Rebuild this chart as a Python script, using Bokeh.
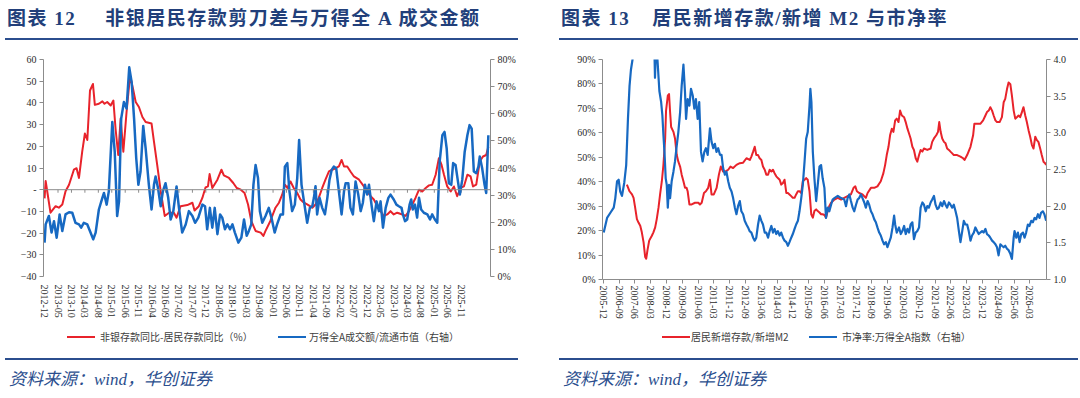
from bokeh.plotting import figure
from bokeh.models import (Range1d, LinearAxis, FixedTicker, Div, Spacer, Span,
                          PrintfTickFormatter, NumeralTickFormatter)
from bokeh.layouts import row, column
from bokeh.embed import file_html
from bokeh.resources import INLINE

# ---------------- data: chart 12 (x = months since 2012-12) ----------------
left_tick_labels = ["2012-12", "2013-05", "2013-10", "2014-03", "2014-08", "2015-01", "2015-06",
                    "2015-11", "2016-04", "2016-09", "2017-02", "2017-07", "2017-12", "2018-05",
                    "2018-10", "2019-03", "2019-08", "2020-01", "2020-06", "2020-11", "2021-04",
                    "2021-09", "2022-02", "2022-07", "2022-12", "2023-05", "2023-10", "2024-03",
                    "2024-08", "2025-01", "2025-06", "2025-11"]

gap_x = [0, 0.4, 2.2, 4.1, 5.3, 6.6, 7.8, 9.1, 10.9, 11.9,
         12.8, 14.0, 15.0, 15.9, 16.9, 18.0, 18.7, 20.2, 21.5, 22.3,
         23.3, 24.6, 25.6, 26.4, 27.4, 28.3, 29.3, 30.5, 31.8, 32.9,
         33.9, 35.1, 36.4, 37.6, 39.8, 40.7, 41.9, 43.2, 44.7, 46.3,
         48.1, 49.1, 50.6, 53.1, 55.0, 55.8, 57.4, 58.7, 59.9, 60.8,
         61.4, 62.4, 64.3, 65.8, 66.7, 68.6, 70.2, 71.5, 73.0, 74.4,
         75.7, 76.9, 78.5, 80.4, 81.4, 82.2, 84.0, 85.9, 87.2, 88.4,
         89.4, 90.3, 91.5, 92.7, 94.0, 95.2, 96.5, 97.7, 99.6, 100.8,
         102.0, 103.3, 104.5, 105.8, 107.0, 108.3, 109.5, 110.5, 111.4, 112.6,
         113.8, 115.1, 117.0, 118.8, 120.0, 121.3, 122.5, 123.8, 125.0, 126.2,
         127.5, 128.7, 129.9, 131.2, 133.1, 134.3, 135.6, 136.8, 138.0, 139.3,
         140.5, 141.8, 143.0, 144.2, 145.5, 146.7, 147.7, 148.6, 149.8, 151.1,
         152.3, 153.5, 154.8, 156.0, 157.3, 158.5, 159.4, 160.6, 161.9, 163.1,
         164.3, 165.1]
gap_y = [-4, 4, -10.6, -7.6, -8.3, -6.8, -0.7, 2.3, 9.2, 9.9,
         5.4, 17.5, 25.9, 22.9, 45.7, 48.7, 39.1, 39.6, 40.7, 39.6,
         40.4, 38.8, 41.1, 28.2, 16.0, 32.8, 17.5, 35.8, 52.5, 46.5,
         40.4, 38.1, 33.5, 31.2, 30.5, 22.1, 11.4, -0.7, -12.1, -10.6,
         -10.6, -12.9, -7.6, -7.1, -6.0, -9.6, -7.6, -3.8, 1.1, 1.6,
         7.2, 0.8, 4.6, 9.2, 6.6, 5.4, 3.1, 0.8, 0.0, -1.5,
         -6.8, -14.4, -19.0, -19.8, -21.3, -19.0, -14.4, -8.3, -6.0, -2.3,
         2.3, 0.8, 3.8, 0.8, -1.5, -4.5, -6.0, -6.8, -8.3, -6.8,
         -3.8, 0.8, 4.6, 8.4, 9.2, 9.9, 10.7, 13.7, 10.7, 10.7,
         8.4, 6.1, 4.6, 1.5, -0.8, -3.0, -4.5, -7.6, -9.9, -12.1,
         -11.4, -9.9, -11.4, -10.6, -11.4, -12.1, -9.9, -6.8, -3.8, 0.0,
         -0.8, 0.8, 2.0, 2.3, 6.9, 14.5, 11.4, 6.9, 1.5, -0.8,
         1.5, -3.0, 0.8, 1.5, 6.9, 6.1, 1.5, 2.3, 13.0, 15.3,
         16.0, 19.8]

turn_x = [0, 0.4, 1.6, 2.6, 3.5, 4.5, 5.6, 6.6, 7.8, 9.1,
          10.3, 11.5, 12.8, 13.6, 14.6, 15.9, 17.1, 18.1, 19.0, 20.2,
          21.5, 22.1, 23.1, 23.9, 25.2, 26.1, 27.0, 27.7, 28.5, 29.5,
          30.5, 31.5, 32.4, 33.3, 34.1, 34.9, 35.7, 36.7, 37.6, 38.8,
          39.8, 40.7, 41.3, 42.2, 43.2, 44.0, 45.0, 46.0, 46.9, 47.9,
          49.1, 50.0, 51.2, 52.5, 53.7, 55.0, 56.0, 57.2, 58.7, 59.7,
          60.5, 61.5, 62.4, 63.3, 64.3, 65.3, 66.1, 67.1, 68.0, 69.0,
          69.9, 70.8, 72.1, 73.2, 74.2, 75.2, 76.0, 76.9, 77.7, 78.5,
          79.4, 80.1, 81.0, 82.2, 83.4, 84.4, 85.6, 86.5, 87.8, 88.7,
          89.4, 90.3, 91.1, 92.1, 93.1, 94.0, 94.7, 95.6, 96.5, 97.7,
          98.7, 99.6, 100.2, 100.8, 101.4, 102.3, 103.3, 104.3, 105.2, 106.0,
          106.8, 107.6, 108.5, 109.5, 110.5, 111.4, 112.0, 113.0, 113.8, 114.7,
          115.7, 116.7, 117.6, 118.4, 119.2, 120.0, 120.7, 121.7, 122.5, 123.5,
          124.4, 125.0, 125.9, 126.9, 127.9, 128.7, 129.9, 130.9, 131.8, 132.8,
          133.3, 134.1, 134.9, 135.8, 136.4, 137.0, 137.8, 138.6, 139.3, 140.1,
          141.1, 142.4, 143.4, 144.2, 145.2, 146.1, 147.0, 148.0, 148.8, 149.6,
          150.4, 151.3, 152.0, 152.9, 153.8, 154.5, 155.4, 156.3, 157.3, 158.1,
          158.9, 159.7, 160.6, 161.4, 161.9, 162.8, 163.7, 164.3, 165.1]
turn_y = [12.5, 19.2, 22.3, 16.2, 20.4, 14.3, 22.9, 16.8, 22.9, 23.7,
          23.5, 19.8, 19.2, 18.0, 19.8, 19.2, 16.2, 13.7, 16.2, 24.7,
          29.0, 30.8, 26.5, 31.4, 57.0, 46.0, 22.3, 27.7, 58.2, 64.3,
          61.9, 77.1, 71.6, 58.2, 43.6, 33.8, 38.7, 55.5, 47.2, 33.8,
          24.7, 33.8, 36.9, 32.6, 25.9, 31.4, 34.4, 29.0, 21.0, 24.1,
          33.2, 25.3, 16.2, 19.2, 24.1, 22.3, 19.8, 21.7, 26.5, 25.9,
          17.4, 25.3, 18.0, 25.3, 15.6, 22.9, 21.7, 17.4, 19.2, 17.4,
          19.2, 16.2, 12.5, 14.3, 21.0, 15.0, 16.8, 19.2, 33.8, 41.1,
          36.3, 24.1, 19.8, 22.3, 25.3, 21.7, 16.2, 19.2, 22.9, 22.9,
          40.5, 41.8, 31.4, 24.1, 26.5, 36.3, 50.3, 33.8, 27.7, 19.8,
          25.3, 25.9, 29.0, 33.3, 22.9, 29.0, 25.3, 22.9, 29.0, 35.7,
          39.3, 40.5, 39.9, 31.4, 22.9, 31.4, 34.4, 34.4, 25.3, 22.9,
          35.0, 30.2, 24.1, 27.1, 33.8, 30.2, 33.8, 25.9, 20.4, 27.7,
          24.1, 27.7, 18.0, 25.3, 29.0, 30.2, 28.4, 26.5, 25.9, 25.3,
          22.9, 20.4, 21.0, 26.5, 28.4, 24.7, 26.5, 21.7, 29.0, 24.7,
          23.5, 22.9, 21.0, 22.9, 21.0, 19.8, 42.4, 52.1, 53.3, 47.2,
          34.4, 33.8, 41.8, 41.1, 35.0, 30.2, 35.7, 46.0, 52.1, 55.8,
          54.5, 38.7, 38.1, 40.5, 44.2, 39.9, 33.8, 30.8, 52.1]

# ---------------- data: chart 13 (x = months since 2005-12) ----------------
right_tick_labels = ["2005-12", "2006-09", "2007-06", "2008-03", "2008-12", "2009-09", "2010-06",
                     "2011-03", "2011-12", "2012-09", "2013-06", "2014-03", "2014-12", "2015-09",
                     "2016-06", "2017-03", "2017-12", "2018-09", "2019-06", "2020-03", "2020-12",
                     "2021-09", "2022-06", "2023-03", "2023-12", "2024-09", "2025-06", "2026-03"]

dep_x = [13.4, 14.9, 16.3, 17.2, 18.1, 19.1, 20.0, 21.0, 21.9, 22.9,
         23.8, 24.4, 25.1, 26.1, 27.6, 28.5, 29.5, 30.4, 31.4, 32.3,
         33.3, 34.2, 35.2, 35.7, 36.7, 37.4, 38.0, 38.6, 39.9, 40.8,
         41.8, 42.7, 43.7, 44.6, 45.6, 46.5, 47.4, 48.0, 49.0, 50.3,
         52.2, 54.1, 55.0, 56.0, 57.3, 58.4, 59.7, 60.7, 61.6, 62.9,
         64.5, 65.8, 66.9, 68.2, 69.6, 71.1, 72.4, 73.9, 75.8, 77.7,
         79.6, 81.5, 83.4, 84.3, 85.3, 86.2, 87.1, 88.1, 89.0, 90.0,
         90.9, 91.9, 92.8, 93.8, 94.7, 95.7, 96.6, 97.5, 98.5, 99.4,
         100.4, 101.3, 102.3, 103.2, 104.2, 105.1, 106.0, 107.0, 107.9, 108.9,
         109.8, 110.8, 111.7, 112.7, 113.6, 114.6, 115.5, 116.4, 117.4, 118.4,
         119.3, 120.2, 121.2, 122.1, 123.1, 124.0, 124.9, 125.9, 126.8, 127.8,
         128.7, 129.7, 131.6, 133.5, 135.4, 137.2, 139.1, 141.0, 142.5, 143.5,
         144.4, 145.7, 147.6, 149.5, 150.5, 152.4, 154.3, 156.1, 158.0, 159.5,
         160.5, 161.4, 162.4, 163.3, 164.3, 165.2, 166.2, 167.1, 168.1, 169.0,
         170.0, 171.3, 172.2, 173.2, 174.1, 175.0, 176.0, 176.9, 177.9, 178.8,
         179.8, 180.7, 181.7, 182.6, 184.5, 186.4, 187.3, 188.3, 189.6, 190.6,
         191.3, 192.1, 193.0, 194.0, 194.9, 195.8, 196.8, 197.7, 198.7, 199.6,
         201.5, 203.4, 204.9, 205.7, 207.2, 209.1, 210.6, 211.3, 212.9, 214.7,
         216.3, 217.6, 218.5, 219.5, 220.4, 221.4, 222.3, 223.3, 224.2, 225.7,
         227.0, 228.0, 228.9, 229.9, 230.8, 231.8, 232.7, 233.7, 234.6, 235.5,
         236.5, 237.4, 238.4, 239.3, 240.3, 241.2, 242.2, 243.1, 244.1, 245.0,
         246.0, 246.9, 247.8, 248.8, 249.7, 250.7, 251.6, 252.2]
dep_y = [38.8, 36.1, 34.8, 33.4, 29.4, 24.7, 23.3, 22.0, 19.3, 15.2,
         9.2, 8.5, 11.9, 15.9, 17.9, 19.3, 21.3, 24.7, 29.4, 34.8,
         40.2, 46.9, 57.7, 69.1, 75.2, 75.9, 68.5, 62.4, 60.4, 57.7,
         50.9, 48.2, 46.2, 42.9, 40.2, 37.5, 37.5, 36.1, 30.7, 30.7,
         31.4, 31.4, 30.7, 31.4, 35.4, 36.1, 37.5, 40.8, 34.8, 34.8,
         37.5, 42.9, 46.2, 44.2, 44.2, 44.9, 46.2, 45.6, 46.9, 47.6,
         47.8, 49.6, 48.9, 50.3, 52.3, 54.3, 50.9, 50.9, 49.6, 48.9,
         46.2, 44.9, 42.9, 42.9, 44.9, 44.2, 44.9, 43.5, 42.2, 41.5,
         40.8, 38.8, 39.5, 40.8, 35.4, 35.4, 34.8, 34.1, 33.4, 33.4,
         34.8, 36.1, 36.1, 35.4, 40.2, 40.8, 41.5, 40.8, 36.1, 26.7,
         25.3, 28.0, 28.7, 28.0, 27.4, 26.7, 26.7, 26.4, 25.3, 28.0,
         30.1, 31.4, 32.7, 33.4, 32.7, 33.4, 34.1, 34.8, 37.5, 38.1,
         36.1, 35.4, 34.8, 33.4, 35.4, 37.5, 37.5, 38.1, 40.2, 43.5,
         46.9, 50.9, 54.3, 59.0, 61.7, 60.4, 65.1, 65.8, 64.4, 69.1,
         67.1, 66.4, 64.4, 61.7, 59.7, 57.7, 54.3, 53.0, 49.6, 48.2,
         50.9, 53.0, 52.3, 53.6, 53.0, 53.6, 56.3, 57.7, 59.0, 60.4,
         64.4, 60.4, 57.7, 56.3, 55.7, 53.6, 53.0, 52.3, 51.6, 50.9,
         50.9, 50.3, 49.6, 48.9, 50.9, 54.3, 59.0, 63.7, 63.7, 63.7,
         65.1, 67.1, 68.5, 69.1, 70.5, 69.1, 67.1, 65.1, 64.4, 64.4,
         66.4, 72.5, 73.9, 77.9, 80.6, 79.9, 75.2, 69.1, 65.8, 66.4,
         67.1, 66.4, 68.5, 70.5, 67.1, 64.4, 61.0, 58.4, 55.0, 53.6,
         58.4, 57.0, 56.3, 53.6, 50.9, 48.2, 47.6, 46.9]

pb_x = [0.2, 2.1, 4.0, 5.9, 6.8, 7.8, 8.7, 9.6, 10.6, 11.9,
        13.0, 14.0, 14.9, 15.7, 16.6, 17.5, 19.0, 21.0, 22.5, 24.0,
        26.0, 28.0, 29.0, 29.4, 29.8, 30.8, 31.9, 32.9, 33.6, 34.2,
        34.8, 35.5, 36.1, 36.7, 37.4, 38.0, 38.9, 39.9, 40.8, 41.8,
        42.7, 43.7, 44.6, 45.6, 46.5, 47.1, 48.0, 49.0, 49.9, 50.9,
        51.8, 52.7, 53.7, 54.6, 55.6, 56.5, 57.5, 58.4, 59.4, 60.7,
        61.6, 62.6, 63.5, 64.4, 65.4, 66.4, 67.3, 68.2, 69.2, 70.1,
        71.1, 72.0, 73.0, 73.9, 74.9, 75.8, 76.7, 77.7, 78.6, 79.6,
        80.5, 81.5, 82.4, 83.3, 84.3, 85.3, 86.2, 87.1, 88.1, 89.0,
        90.0, 90.9, 91.9, 92.8, 93.8, 94.7, 95.7, 96.6, 97.5, 98.5,
        99.4, 100.4, 101.3, 102.3, 103.2, 104.2, 105.1, 106.0, 107.0, 107.9,
        108.9, 109.8, 110.8, 111.7, 112.7, 113.6, 114.6, 115.5, 116.4, 117.4,
        117.9, 118.5, 119.3, 120.2, 121.2, 122.1, 123.1, 124.0, 124.9, 125.9,
        126.8, 127.8, 128.7, 129.7, 130.6, 131.6, 133.5, 135.4, 137.2, 138.2,
        139.1, 140.1, 141.0, 142.0, 142.9, 143.9, 144.8, 145.7, 146.7, 147.6,
        148.6, 149.5, 150.5, 151.4, 152.4, 153.3, 154.3, 155.2, 156.1, 157.1,
        158.0, 159.0, 159.9, 160.9, 161.8, 162.8, 163.7, 164.7, 165.6, 166.2,
        167.1, 168.4, 169.4, 170.3, 171.3, 172.2, 173.2, 174.1, 175.0, 176.0,
        176.9, 177.9, 178.8, 179.8, 180.7, 181.7, 182.6, 183.6, 184.5, 185.4,
        186.4, 187.3, 188.3, 189.2, 190.2, 191.1, 192.1, 193.0, 194.0, 194.9,
        195.8, 196.8, 197.7, 198.7, 199.6, 200.6, 201.5, 202.5, 203.4, 204.4,
        205.3, 206.2, 207.2, 208.1, 209.1, 210.0, 211.0, 211.9, 212.9, 213.8,
        214.7, 215.7, 216.6, 217.6, 218.5, 219.5, 220.4, 221.4, 222.3, 223.3,
        224.2, 225.1, 226.1, 227.0, 228.0, 228.9, 229.9, 230.8, 231.8, 232.7,
        233.7, 234.2, 235.2, 236.1, 237.1, 238.0, 239.0, 239.9, 240.8, 241.8,
        242.7, 243.7, 244.6, 245.6, 246.5, 247.5, 248.4, 249.3, 250.3, 251.2,
        252.2]
pb_y = [1.64, 1.84, 1.91, 1.98, 2.11, 2.34, 2.36, 2.20, 2.14, 2.32,
        2.56, 3.19, 3.64, 3.86, 4.00, 4.40, 5.00, 5.60, 6.00, 5.70,
        5.20, 4.50, 4.20, 3.75, 4.05, 4.00, 3.57, 3.42, 3.24, 2.97,
        2.74, 2.38, 2.29, 1.98, 2.29, 2.11, 2.34, 2.47, 2.61, 2.83,
        3.01, 3.28, 3.64, 3.93, 3.55, 3.19, 3.46, 3.37, 3.60, 3.51,
        3.33, 3.46, 3.19, 3.42, 2.74, 2.61, 2.74, 2.79, 2.70, 3.06,
        2.88, 2.79, 2.85, 2.74, 2.79, 2.70, 2.70, 2.52, 2.43, 2.47,
        2.34, 2.25, 2.20, 2.11, 1.98, 1.89, 2.00, 2.07, 1.93, 1.89,
        1.80, 1.75, 1.71, 1.66, 1.64, 1.57, 1.53, 1.57, 1.75, 1.87,
        1.80, 1.75, 1.64, 1.64, 1.57, 1.66, 1.73, 1.64, 1.69, 1.62,
        1.66, 1.60, 1.64, 1.57, 1.53, 1.51, 1.46, 1.51, 1.57, 1.62,
        1.69, 1.75, 1.80, 1.93, 2.11, 2.29, 2.61, 2.92, 3.01, 3.37,
        3.60, 3.42, 2.74, 2.38, 2.07, 2.29, 2.54, 2.56, 2.38, 2.25,
        1.84, 1.98, 1.93, 2.02, 2.09, 2.11, 2.14, 2.11, 2.09, 2.00,
        2.11, 2.16, 2.07, 1.98, 1.93, 2.02, 2.09, 2.11, 2.16, 2.11,
        2.05, 1.98, 2.07, 2.02, 1.93, 1.89, 1.82, 1.78, 1.71, 1.64,
        1.60, 1.53, 1.48, 1.51, 1.44, 1.51, 1.57, 1.71, 1.87, 1.75,
        1.64, 1.71, 1.62, 1.66, 1.73, 1.62, 1.69, 1.64, 1.75, 1.78,
        1.55, 1.64, 1.66, 1.71, 1.98, 2.05, 2.02, 1.93, 2.00, 1.98,
        2.05, 2.09, 2.14, 2.02, 1.96, 1.98, 2.05, 2.00, 2.07, 2.02,
        1.98, 2.05, 2.02, 1.98, 2.02, 1.93, 1.84, 1.66, 1.51, 1.66,
        1.80, 1.75, 1.75, 1.66, 1.53, 1.60, 1.64, 1.71, 1.66, 1.62,
        1.64, 1.66, 1.64, 1.69, 1.62, 1.60, 1.57, 1.53, 1.51, 1.48,
        1.44, 1.33, 1.48, 1.46, 1.44, 1.46, 1.42, 1.40, 1.35, 1.28,
        1.57, 1.66, 1.57, 1.64, 1.51, 1.62, 1.64, 1.57, 1.64, 1.75,
        1.73, 1.80, 1.78, 1.84, 1.82, 1.89, 1.84, 1.91, 1.93, 1.89,
        1.80]

# ---------------- styles ----------------
RED = "#E8232B"
BLUE = "#1769C2"
NAVY = "#223F7A"
RULE = "#2B4E8E"
AXIS = "#8C8C8C"
TXT = "#2B2B2B"
SERIF = "Liberation Serif"
CJK = "Noto Sans CJK SC"


def pairs(xs, ys):
    n = min(len(xs), len(ys))
    return list(xs[:n]), list(ys[:n])


def style_axis(ax, tick_out=4, standoff=3):
    ax.axis_line_color = AXIS
    ax.axis_line_width = 1
    ax.major_tick_line_color = AXIS
    ax.minor_tick_line_color = None
    ax.major_tick_in = 0
    ax.major_tick_out = tick_out
    ax.major_label_text_font = SERIF
    ax.major_label_text_font_size = "10px"
    ax.major_label_text_color = TXT
    ax.major_label_standoff = standoff


def base_fig(width, height, xr, yr, mbl, mbr, mbt, mbb):
    p = figure(width=width, height=height, x_range=Range1d(*xr), y_range=Range1d(*yr),
               output_backend="svg", toolbar_location=None,
               min_border_left=mbl, min_border_right=mbr,
               min_border_top=mbt, min_border_bottom=mbb)
    p.outline_line_color = None
    p.xgrid.visible = False
    p.ygrid.visible = False
    p.background_fill_color = "white"
    p.border_fill_color = "white"
    return p


def title_div(width, inset, number, text, gap):
    html = (f'<div style="box-sizing:border-box;margin-left:{inset}px;width:{width - inset}px;height:40px;'
            f'padding:8px 0 0 2px;border-bottom:2px solid {RULE};'
            f"font-family:'{SERIF}','{CJK}',serif;font-weight:bold;font-size:19px;"
            f'line-height:22px;letter-spacing:1.5px;color:{NAVY};white-space:nowrap;">'
            f'{number}<span style="display:inline-block;width:{gap}px"></span>{text}</div>')
    return Div(text=html, width=width, height=40, margin=0)


def legend_div(width, height, pad_top, items):
    parts = []
    for (x_line, x_text, color, label) in items:
        parts.append(f'<span style="position:absolute;left:{x_line}px;top:{pad_top + 9}px;width:28px;'
                     f'height:0;border-top:2.5px solid {color};"></span>')
        parts.append(f'<span style="position:absolute;left:{x_text}px;top:{pad_top}px;'
                     f"line-height:20px;font-family:'{CJK}',sans-serif;font-size:10px;"
                     f'color:#404040;white-space:nowrap;">{label}</span>')
    html = (f'<div style="position:relative;width:{width}px;height:{height}px;">'
            + "".join(parts) + '</div>')
    return Div(text=html, width=width, height=height, margin=0)


def source_div(width, inset):
    html = (f'<div style="box-sizing:border-box;margin-left:{inset}px;margin-top:1px;'
            f'width:{width - inset}px;height:36px;'
            f'padding:9px 0 0 4px;border-top:2px solid {RULE};'
            f"font-family:'{SERIF}','{CJK}',serif;font-style:italic;font-size:17px;"
            f'line-height:22px;color:{RULE};white-space:nowrap;">资料来源：wind，华创证券</div>')
    return Div(text=html, width=width, height=38, margin=0)


# ---------------- chart 12 ----------------
p1 = base_fig(518, 280, (-0.4, 165.9), (-40, 60), 43, 28, 19, 42)
p1.extra_y_ranges = {"pct": Range1d(0, 80)}

lt_pos = [5 * i for i in range(len(left_tick_labels))]
xa = p1.xaxis[0]
style_axis(xa, tick_out=0, standoff=8)
xa.axis_line_color = None
xa.major_tick_line_color = None
xa.ticker = FixedTicker(ticks=lt_pos)
xa.major_label_overrides = dict(zip(lt_pos, left_tick_labels))
xa.major_label_orientation = "vertical"

ya = p1.yaxis[0]
style_axis(ya)
ya.ticker = FixedTicker(ticks=list(range(-40, 61, 10)))
ya.major_label_overrides = {0: "-"}

ra = LinearAxis(y_range_name="pct", ticker=FixedTicker(ticks=list(range(0, 81, 10))),
                formatter=PrintfTickFormatter(format="%d%%"))
style_axis(ra)
p1.add_layout(ra, "right")

p1.add_layout(Span(location=0, dimension="width", line_color=AXIS, line_width=1))
p1.segment(x0=lt_pos, y0=[0] * len(lt_pos), x1=lt_pos, y1=[-1.4] * len(lt_pos),
           line_color=AXIS, line_width=1)

gx, gy = pairs(gap_x, gap_y)
tx, ty = pairs(turn_x, turn_y)
p1.line(gx, gy, line_color=RED, line_width=2, line_join="round")
p1.line(tx, ty, y_range_name="pct", line_color=BLUE, line_width=2.5, line_join="round")

# ---------------- chart 13 ----------------
p2 = base_fig(519, 281, (-0.5, 252.4), (0, 90), 43, 32, 19, 40)
p2.extra_y_ranges = {"pb": Range1d(1.0, 4.0)}

rt_pos = [9 * i for i in range(len(right_tick_labels))]
xb = p2.xaxis[0]
style_axis(xb, tick_out=4, standoff=2)
xb.ticker = FixedTicker(ticks=rt_pos)
xb.major_label_overrides = dict(zip(rt_pos, right_tick_labels))
xb.major_label_orientation = "vertical"

yb = p2.yaxis[0]
style_axis(yb)
yb.ticker = FixedTicker(ticks=list(range(0, 91, 10)))
yb.formatter = PrintfTickFormatter(format="%d%%")

rb = LinearAxis(y_range_name="pb", ticker=FixedTicker(ticks=[1.0, 1.5, 2.0, 2.5, 3.0, 3.5, 4.0]),
                formatter=NumeralTickFormatter(format="0.0"))
style_axis(rb)
p2.add_layout(rb, "right")

dx, dy = pairs(dep_x, dep_y)
bx, by = pairs(pb_x, pb_y)
p2.line(dx, dy, line_color=RED, line_width=2, line_join="round")
p2.line(bx, by, y_range_name="pb", line_color=BLUE, line_width=2.2, line_join="round")

# ---------------- layout ----------------
left_col = column(
    title_div(518, 5, "图表 12", "非银居民存款剪刀差与万得全 A 成交金额", 29),
    p1,
    legend_div(518, 37, 7, [(67, 100, RED, "非银存款同比-居民存款同比（%）"),
                            (278, 309, BLUE, "万得全A成交额/流通市值（右轴）")]),
    source_div(518, 5),
    spacing=0)
right_col = column(
    title_div(519, 0, "图表 13", "居民新增存款/新增 M2 与市净率", 22),
    p2,
    legend_div(519, 36, 6, [(103, 132, RED, "居民新增存款/新增M2"),
                            (250, 283, BLUE, "市净率:万得全A指数（右轴）")]),
    source_div(519, 0),
    spacing=0)
layout = row(left_col, Spacer(width=41, height=10), right_col, spacing=0)

open("out.html", "w").write(file_html(layout, INLINE))
